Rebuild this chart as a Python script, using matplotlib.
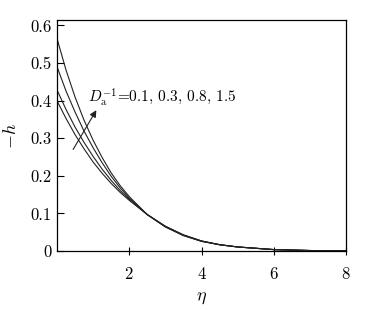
import matplotlib
matplotlib.use("Agg")
import matplotlib.pyplot as plt
import numpy as np

plt.rcParams['font.family'] = 'serif'
plt.rcParams['font.serif'] = ['cmr10', 'DejaVu Serif']
plt.rcParams['mathtext.fontset'] = 'cm'
plt.rcParams['axes.formatter.use_mathtext'] = True

eta = [0, 0.25, 0.5, 0.75, 1, 1.25, 1.5, 1.75, 2, 2.5, 3, 3.5, 4, 4.5, 5, 6, 7, 8]
h_15 = [0.566, 0.482, 0.410, 0.348, 0.295, 0.249, 0.208, 0.174, 0.145, 0.097, 0.064, 0.041, 0.026, 0.017, 0.011, 0.004, 0.0015, 0.0005]
h_08 = [0.491, 0.426, 0.370, 0.319, 0.275, 0.235, 0.199, 0.168, 0.141, 0.097, 0.065, 0.042, 0.026, 0.017, 0.011, 0.004, 0.0015, 0.0005]
h_03 = [0.429, 0.377, 0.330, 0.289, 0.252, 0.218, 0.188, 0.161, 0.138, 0.097, 0.066, 0.043, 0.027, 0.017, 0.011, 0.004, 0.0015, 0.0005]
h_01 = [0.400, 0.353, 0.310, 0.272, 0.237, 0.207, 0.180, 0.156, 0.135, 0.097, 0.066, 0.043, 0.027, 0.017, 0.011, 0.004, 0.0015, 0.0005]

fig = plt.figure(figsize=(3.82, 3.10), dpi=100)
ax = fig.add_axes([0.149, 0.19, 0.757, 0.745])

for h in [h_01, h_03, h_08, h_15]:
    ax.plot(eta, h, color='#222222', lw=0.8)

ax.set_xlim(0, 8)
ax.set_ylim(0, 0.614)
ax.set_xticks([2, 4, 6, 8])
ax.set_yticks([0, 0.1, 0.2, 0.3, 0.4, 0.5, 0.6])
ax.set_yticklabels(['0', '0.1', '0.2', '0.3', '0.4', '0.5', '0.6'])
ax.tick_params(axis='x', direction='inout', length=6, width=0.8, labelsize=12, pad=8)
ax.tick_params(axis='y', direction='in', length=5, width=0.8, labelsize=12, pad=4)
for s in ax.spines.values():
    s.set_linewidth(0.9)

ax.set_xlabel(r'$\eta$', fontsize=13, labelpad=6)
ax.set_ylabel(r'$-h$', fontsize=13, labelpad=8)

ax.annotate('', xy=(1.13, 0.381), xytext=(0.41, 0.264),
            arrowprops=dict(arrowstyle='-|>', color='#222222', lw=0.8, mutation_scale=10))
ax.text(0.86, 0.41, r'$D_{\rm a}^{-1}$=0.1, 0.3, 0.8, 1.5', fontsize=11, va='center', ha='left')

fig.savefig('out.png', dpi=100)
